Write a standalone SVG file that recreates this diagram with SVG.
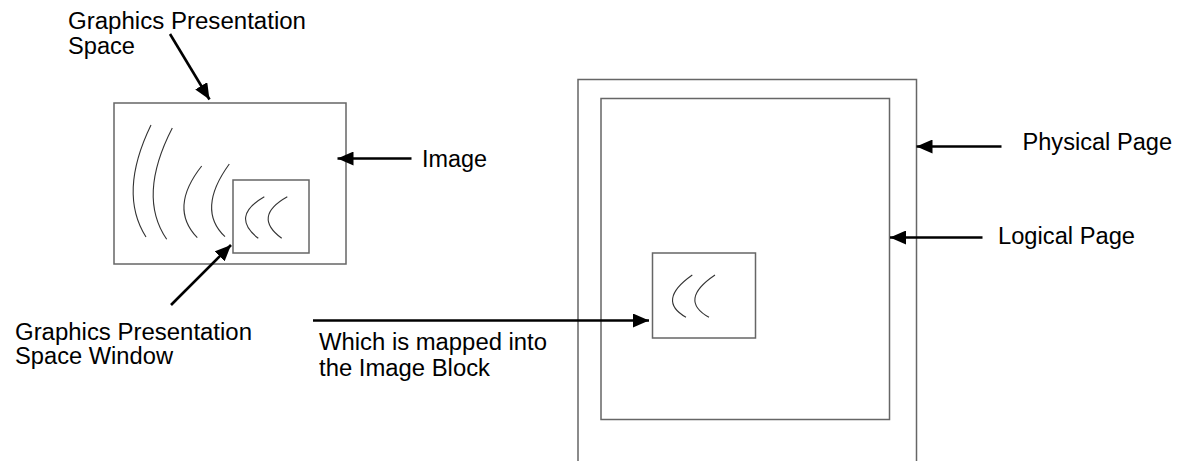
<svg xmlns="http://www.w3.org/2000/svg" width="1178" height="461" viewBox="0 0 1178 461">
<defs>
<style>
.box{fill:none;stroke:#666;stroke-width:1.5}
.arc{fill:none;stroke:#333;stroke-width:1.1}
.conn{stroke:#000;stroke-width:2.6;fill:none}
.lbl{font-family:"Liberation Sans",Arial,sans-serif;font-size:23.5px;fill:#000}
</style>
<marker id="ah" viewBox="0 0 16 14" refX="16" refY="7" markerWidth="16" markerHeight="14" markerUnits="userSpaceOnUse" orient="auto">
<path d="M0,0 L16,7 L0,14 Z" fill="#000"/>
</marker>
</defs>
<rect width="1178" height="461" fill="#fff"/>
<g id="physical-page">
<rect class="box" x="578" y="79.5" width="338.5" height="420"/>
</g>
<g id="logical-page">
<rect class="box" x="601" y="98.5" width="288.5" height="321"/>
</g>
<g id="image-block">
<rect class="box" x="652.5" y="253" width="103" height="85"/>
<path class="arc" d="M692.3,275 Q656.2,300.4 686,317.3"/>
<path class="arc" d="M715,275 Q678,300 709,317.3"/>
</g>
<g id="image">
<rect class="box" x="114" y="103" width="232" height="161"/>
<path class="arc" d="M151,125 Q118,193 146,237"/>
<path class="arc" d="M172.3,128 Q137.1,196.3 166.7,239.3"/>
<path class="arc" d="M201.7,166 Q168.5,208 197.3,237.7"/>
<path class="arc" d="M229.3,164 Q196.2,209.6 225,236.7"/>
</g>
<g id="gps-window">
<rect class="box" x="233" y="180" width="76" height="73"/>
<path class="arc" d="M264.3,196.7 Q230.1,216.5 258.3,238.3"/>
<path class="arc" d="M287.3,196.7 Q252.1,216.5 281.7,238.3"/>
</g>
<g id="labels">
<text class="lbl" x="68" y="28.5" textLength="238" lengthAdjust="spacingAndGlyphs">Graphics Presentation</text>
<text class="lbl" x="68" y="53.5" textLength="67" lengthAdjust="spacingAndGlyphs">Space</text>
<text class="lbl" x="422" y="166.5" textLength="65" lengthAdjust="spacingAndGlyphs">Image</text>
<text class="lbl" x="15" y="340" textLength="237" lengthAdjust="spacingAndGlyphs">Graphics Presentation</text>
<text class="lbl" x="15" y="363.5" textLength="158" lengthAdjust="spacingAndGlyphs">Space Window</text>
<text class="lbl" x="319" y="349.5" textLength="228" lengthAdjust="spacingAndGlyphs">Which is mapped into</text>
<text class="lbl" x="319" y="376" textLength="171" lengthAdjust="spacingAndGlyphs">the Image Block</text>
<text class="lbl" x="1022.5" y="149.5" textLength="149.5" lengthAdjust="spacingAndGlyphs">Physical Page</text>
<text class="lbl" x="998" y="243.5" textLength="137" lengthAdjust="spacingAndGlyphs">Logical Page</text>
</g>
<g id="connectors">
<line class="conn" x1="170" y1="34" x2="209.5" y2="99.5" marker-end="url(#ah)"/>
<line class="conn" x1="411.5" y1="158.5" x2="337.5" y2="158.5" marker-end="url(#ah)"/>
<line class="conn" x1="171" y1="305" x2="231" y2="245" marker-end="url(#ah)"/>
<line class="conn" x1="313" y1="320.5" x2="649" y2="320.5" marker-end="url(#ah)"/>
<line class="conn" x1="1001.5" y1="146.5" x2="916.5" y2="146.5" marker-end="url(#ah)"/>
<line class="conn" x1="982.5" y1="237.5" x2="890" y2="237.5" marker-end="url(#ah)"/>
</g>
</svg>
